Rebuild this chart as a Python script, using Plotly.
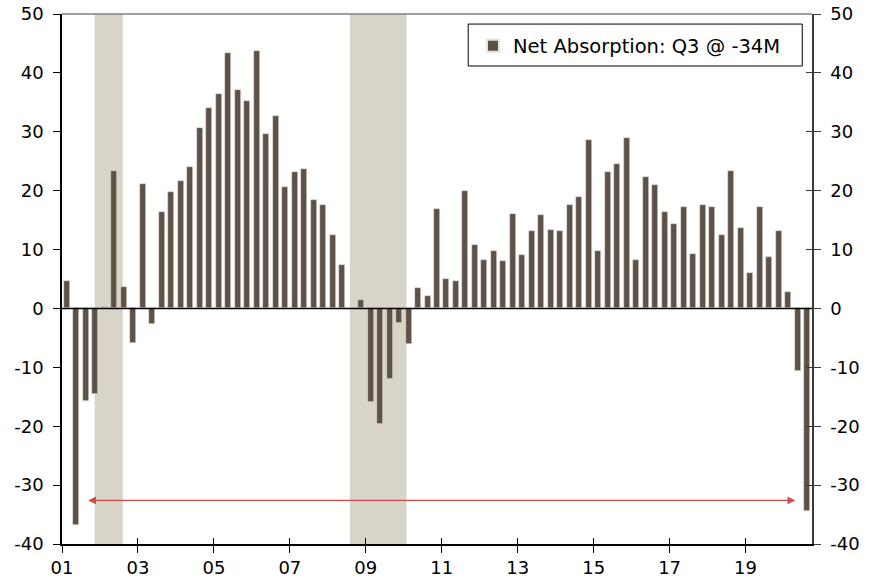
import plotly.graph_objects as go

# ---- data ----
start_year = 2001
net_absorption = [
    4.7, -36.8, -15.7, -14.5,      # 2001
    0.3, 23.4, 3.6, -5.9,          # 2002
    21.1, -2.6, 16.3, 19.7,        # 2003
    21.6, 24.0, 30.6, 34.0,        # 2004
    36.5, 43.3, 37.1, 35.2,        # 2005
    43.8, 29.6, 32.7, 20.7,        # 2006
    23.2, 23.7, 18.4, 17.5,        # 2007
    12.5, 7.3, 0.0, 1.5,           # 2008
    -15.9, -19.7, -11.9, -2.5,     # 2009
    -6.0, 3.5, 2.1, 16.9,          # 2010
    5.0, 4.6, 19.9, 10.7,          # 2011
    8.3, 9.8, 8.1, 16.1,           # 2012
    9.1, 13.1, 15.9, 13.4,         # 2013
    13.2, 17.6, 18.9, 28.6,        # 2014
    9.8, 23.1, 24.6, 28.9,         # 2015
    8.2, 22.4, 20.9, 16.3,         # 2016
    14.3, 17.3, 9.2, 17.6,         # 2017
    17.3, 12.4, 23.4, 13.7,        # 2018
    6.0, 17.2, 8.8, 13.1,          # 2019
    2.8, -10.7, -34.4,             # 2020 Q1-Q3
]
recession_starts = [2001.86, 2008.58]
recession_ends = [2002.60, 2010.07]
tick_years = [2001, 2003, 2005, 2007, 2009, 2011, 2013, 2015, 2017, 2019]
tick_labels = ["01", "03", "05", "07", "09", "11", "13", "15", "17", "19"]
y_ticks = [50, 40, 30, 20, 10, 0, -10, -20, -30, -40]
y_tick_labels = ["50", "40", "30", "20", "10", "0", "-10", "-20", "-30", "-40"]
legend_name = "Net Absorption: Q3 @ -34M"

# quarter mid-points in fractional years
x_pos = [start_year + i / 4 + 0.125 for i in range(len(net_absorption))]

FONT = "DejaVu Sans, Verdana, sans-serif"
BAR = "#5e5247"
SHADE = "#d8d4c8"

fig = go.Figure()
fig.add_trace(go.Bar(
    x=x_pos, y=net_absorption, width=0.158,
    marker=dict(color=BAR, line=dict(color="#e6e2dc", width=0.6)),
    name=legend_name, showlegend=True,
))

shapes = []
for s, e in zip(recession_starts, recession_ends):
    shapes.append(dict(type="rect", xref="x", yref="paper", x0=s, x1=e, y0=0, y1=1,
                       fillcolor=SHADE, line=dict(width=0), layer="below"))
# zero line
shapes.append(dict(type="line", xref="paper", yref="y", x0=0, x1=1, y0=0, y1=0,
                   line=dict(color="black", width=1.5)))
# top border
shapes.append(dict(type="line", xref="paper", yref="paper", x0=0, x1=1, y0=1, y1=1,
                   line=dict(color="#7f7f7f", width=1.5)))
# legend frame
shapes.append(dict(type="rect", xref="paper", yref="paper", x0=0.5416, x1=0.987,
                   y0=0.9019, y1=0.981, fillcolor="white",
                   line=dict(color="black", width=1), layer="above"))

yr = [-40, 50]
xr = [2001, 2001 + len(net_absorption) / 4]

fig.update_layout(
    width=877, height=584,
    margin=dict(l=62, r=65, t=14, b=40, autoexpand=False),
    paper_bgcolor="white", plot_bgcolor="white",
    font=dict(family=FONT, size=18, color="black"),
    bargap=0,
    shapes=shapes,
    showlegend=True,
    legend=dict(x=0.548, y=0.9396, xanchor="left", yanchor="middle",
                bgcolor="rgba(0,0,0,0)", borderwidth=0,
                font=dict(family=FONT, size=19.5, color="black"),
                itemsizing="constant", tracegroupgap=0),
    xaxis=dict(range=xr, tickmode="array", tickvals=tick_years, ticktext=tick_labels,
               showgrid=False, zeroline=False, showline=True, linecolor="black",
               linewidth=1.5, ticks="outside", ticklen=7, tickcolor="black",
               tickfont=dict(size=18), automargin=False, fixedrange=True),
    xaxis2=dict(range=xr, overlaying="x", anchor="y", tickmode="array",
                tickvals=tick_years, showticklabels=False, showgrid=False,
                zeroline=False, ticks="inside", ticklen=6, tickcolor="black",
                showline=False, automargin=False),
    yaxis=dict(range=yr, tickmode="array", tickvals=y_ticks, ticktext=y_tick_labels,
               showgrid=False, zeroline=False, showline=True, linecolor="black",
               linewidth=1.5, ticks="outside", ticklen=7, tickcolor="black",
               tickfont=dict(size=18), ticklabelstandoff=6, automargin=False),
    yaxis2=dict(range=yr, overlaying="y", side="right", anchor="x", tickmode="array",
                tickvals=y_ticks, ticktext=y_tick_labels, showgrid=False,
                zeroline=False, showline=True, linecolor="#3a3a3a", linewidth=1.5,
                ticks="outside", ticklen=7, tickcolor="#3a3a3a",
                tickfont=dict(size=18), ticklabelstandoff=6, automargin=False),
    yaxis3=dict(range=yr, overlaying="y", side="right", anchor="x", tickmode="array",
                tickvals=y_ticks, showgrid=False, zeroline=False, showline=False,
                ticks="inside", ticklen=6, tickcolor="#3a3a3a", showticklabels=False,
                automargin=False),
)

# double-headed red arrow spanning the period
fig.add_annotation(x=2020.31, y=-32.6, ax=2001.65, ay=-32.6,
                   xref="x", yref="y", axref="x", ayref="y",
                   showarrow=True, arrowhead=2, startarrowhead=2,
                   arrowside="end+start", arrowsize=1.2, arrowwidth=1.3,
                   arrowcolor="#d24b4b", text="")

# invisible traces to activate the extra axes
fig.add_trace(go.Scatter(x=[xr[0]], y=[0], xaxis="x2", yaxis="y2", mode="markers",
                         marker=dict(opacity=0), showlegend=False, hoverinfo="skip"))
fig.add_trace(go.Scatter(x=[xr[0]], y=[0], xaxis="x", yaxis="y3", mode="markers",
                         marker=dict(opacity=0), showlegend=False, hoverinfo="skip"))

fig.write_html("out.html", config={"displayModeBar": False},
               post_script="document.body.style.margin='0';document.body.style.padding='0';")
